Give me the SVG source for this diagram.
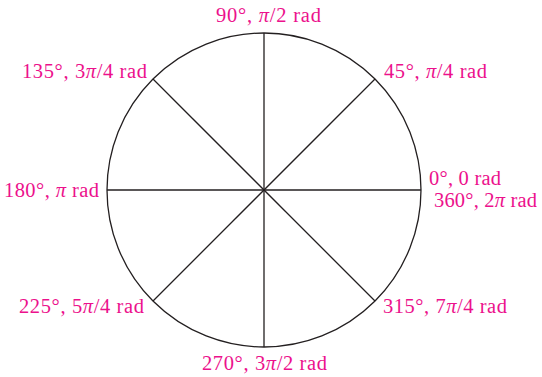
<svg xmlns="http://www.w3.org/2000/svg" width="542" height="377" viewBox="0 0 542 377">
<style>
.ln{stroke:#231f20;stroke-width:1.3;fill:none}
.t{font-family:"Liberation Serif","Times New Roman",serif;font-size:20.5px;fill:#ec118c}
.p{font-style:italic}
</style>
<rect width="542" height="377" fill="#fff"/>
<g id="connectors">
<line class="ln" x1="264" y1="33" x2="264" y2="347"/>
<line class="ln" x1="107" y1="190" x2="421" y2="190"/>
<line class="ln" x1="153" y1="79" x2="375" y2="301"/>
<line class="ln" x1="375" y1="79" x2="153" y2="301"/>
</g>
<g id="circle"><circle class="ln" cx="264" cy="190" r="157"/></g>
<g id="l90"><text class="t" x="216" y="22" textLength="105">90°, <tspan class="p">π</tspan>/2 rad</text></g>
<g id="l45"><text class="t" x="384" y="78" textLength="103">45°, <tspan class="p">π</tspan>/4 rad</text></g>
<g id="l135"><text class="t" x="22" y="78" textLength="125">135°, 3<tspan class="p">π</tspan>/4 rad</text></g>
<g id="l180"><text class="t" x="4" y="197" textLength="95">180°, <tspan class="p">π</tspan> rad</text></g>
<g id="l0"><text class="t" x="429" y="184.5" textLength="72">0°, 0 rad</text><text class="t" x="434" y="207" textLength="103">360°, 2<tspan class="p">π</tspan> rad</text></g>
<g id="l225"><text class="t" x="19" y="313" textLength="125">225°, 5<tspan class="p">π</tspan>/4 rad</text></g>
<g id="l315"><text class="t" x="383" y="313" textLength="124">315°, 7<tspan class="p">π</tspan>/4 rad</text></g>
<g id="l270"><text class="t" x="202" y="370" textLength="125">270°, 3<tspan class="p">π</tspan>/2 rad</text></g>
</svg>
